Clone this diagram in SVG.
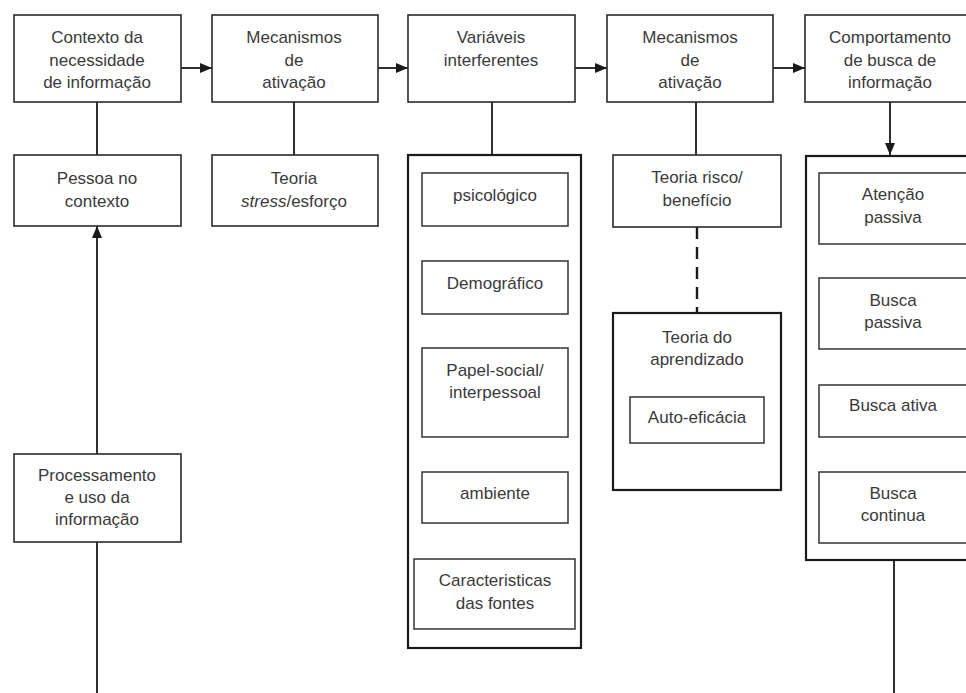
<svg xmlns="http://www.w3.org/2000/svg" width="966" height="693" viewBox="0 0 966 693">
<defs>
<marker id="ah" viewBox="0 0 12 10" refX="12" refY="5" markerWidth="12" markerHeight="10" markerUnits="userSpaceOnUse" orient="auto">
<path d="M0,0 L12,5 L0,10 z" fill="#1a1a1a"/>
</marker>
<style>
.box{fill:#fff;stroke:#2a2a2a;stroke-width:1.6}
.cont{fill:#fff;stroke:#1a1a1a;stroke-width:2.2}
.in{fill:#fff;stroke:#333;stroke-width:1.5}
.ln{fill:none;stroke:#1a1a1a;stroke-width:1.8}
.dash{fill:none;stroke:#1a1a1a;stroke-width:2.4;stroke-dasharray:12,8}
text{font-family:"Liberation Sans",Arial,sans-serif;font-size:17px;fill:#3a3a3a;text-anchor:middle;dominant-baseline:central}
</style>
</defs>
<rect width="966" height="693" fill="#fff"/>

<g id="connectors">
<line class="ln" x1="181" y1="68" x2="212" y2="68" marker-end="url(#ah)"/>
<line class="ln" x1="378" y1="68" x2="408" y2="68" marker-end="url(#ah)"/>
<line class="ln" x1="575" y1="68" x2="607" y2="68" marker-end="url(#ah)"/>
<line class="ln" x1="773" y1="68" x2="805" y2="68" marker-end="url(#ah)"/>
<line class="ln" x1="97" y1="102" x2="97" y2="155"/>
<line class="ln" x1="294" y1="102" x2="294" y2="155"/>
<line class="ln" x1="492" y1="102" x2="492" y2="155"/>
<line class="ln" x1="696" y1="102" x2="696" y2="155"/>
<line class="ln" x1="890" y1="102" x2="890" y2="155" marker-end="url(#ah)"/>
<line class="dash" x1="697" y1="227" x2="697" y2="313"/>
<line class="ln" x1="97" y1="454" x2="97" y2="226" marker-end="url(#ah)"/>
<line class="ln" x1="97" y1="542" x2="97" y2="693"/>
<line class="ln" x1="894" y1="560" x2="894" y2="693"/>
</g>

<g id="contexto">
<rect class="box" x="14" y="15" width="167" height="87"/>
<text x="97" y="37">Contexto da</text>
<text x="97" y="60">necessidade</text>
<text x="97" y="82">de informação</text>
</g>
<g id="mecanismos1">
<rect class="box" x="212" y="15" width="166" height="87"/>
<text x="294" y="37">Mecanismos</text>
<text x="294" y="60">de</text>
<text x="294" y="82">ativação</text>
</g>
<g id="variaveis">
<rect class="box" x="408" y="15" width="167" height="87"/>
<text x="491" y="37">Variáveis</text>
<text x="491" y="60">interferentes</text>
</g>
<g id="mecanismos2">
<rect class="box" x="607" y="15" width="166" height="87"/>
<text x="690" y="37">Mecanismos</text>
<text x="690" y="60">de</text>
<text x="690" y="82">ativação</text>
</g>
<g id="comportamento">
<rect class="box" x="805" y="15" width="172" height="87"/>
<text x="890" y="37">Comportamento</text>
<text x="890" y="60">de busca de</text>
<text x="890" y="82">informação</text>
</g>

<g id="pessoa">
<rect class="box" x="14" y="155" width="167" height="71"/>
<text x="97" y="178">Pessoa no</text>
<text x="97" y="201">contexto</text>
</g>
<g id="teoria-stress">
<rect class="box" x="212" y="155" width="166" height="71"/>
<text x="294" y="178">Teoria</text>
<text x="294" y="201"><tspan font-style="italic">stress</tspan>/esforço</text>
</g>

<g id="variaveis-lista">
<rect class="cont" x="408" y="155" width="173" height="493"/>
<g id="psicologico">
<rect class="in" x="422" y="173" width="146" height="53"/>
<text x="495" y="195">psicológico</text>
</g>
<g id="demografico">
<rect class="in" x="422" y="261" width="146" height="53"/>
<text x="495" y="283">Demográfico</text>
</g>
<g id="papel-social">
<rect class="in" x="422" y="348" width="146" height="89"/>
<text x="495" y="370">Papel-social/</text>
<text x="495" y="392">interpessoal</text>
</g>
<g id="ambiente">
<rect class="in" x="422" y="472" width="146" height="51"/>
<text x="495" y="493">ambiente</text>
</g>
<g id="caracteristicas">
<rect class="in" x="414" y="559" width="161" height="70"/>
<text x="495" y="580">Caracteristicas</text>
<text x="495" y="603">das fontes</text>
</g>
</g>

<g id="teoria-risco">
<rect class="box" x="613" y="155" width="168" height="72"/>
<text x="697" y="177">Teoria risco/</text>
<text x="697" y="200">benefício</text>
</g>

<g id="teoria-aprendizado">
<rect class="cont" x="613" y="313" width="168" height="177"/>
<text x="697" y="337">Teoria do</text>
<text x="697" y="359">aprendizado</text>
<g id="auto-eficacia">
<rect class="in" x="630" y="397" width="134" height="46"/>
<text x="697" y="417">Auto-eficácia</text>
</g>
</g>

<g id="busca-lista">
<rect class="cont" x="806" y="156" width="180" height="404"/>
<g id="atencao-passiva">
<rect class="in" x="819" y="173" width="160" height="71"/>
<text x="893" y="194">Atenção</text>
<text x="893" y="217">passiva</text>
</g>
<g id="busca-passiva">
<rect class="in" x="819" y="278" width="160" height="71"/>
<text x="893" y="300">Busca</text>
<text x="893" y="322">passiva</text>
</g>
<g id="busca-ativa">
<rect class="in" x="819" y="385" width="160" height="52"/>
<text x="893" y="405">Busca ativa</text>
</g>
<g id="busca-continua">
<rect class="in" x="819" y="472" width="160" height="71"/>
<text x="893" y="493">Busca</text>
<text x="893" y="515">continua</text>
</g>
</g>

<g id="processamento">
<rect class="box" x="14" y="454" width="167" height="88"/>
<text x="97" y="475">Processamento</text>
<text x="97" y="497">e uso da</text>
<text x="97" y="519">informação</text>
</g>
</svg>
